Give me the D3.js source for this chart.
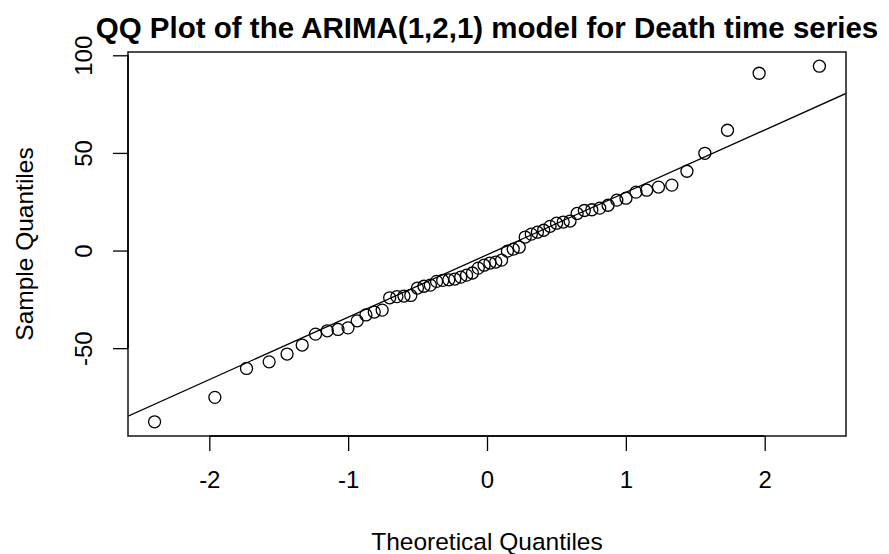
<!DOCTYPE html>
<html>
<head>
<meta charset="utf-8">
<script src="https://cdn.jsdelivr.net/npm/d3@7"></script>
<style>
  body { margin: 0; background: #fff; }
  text { font-family: "Liberation Sans", Arial, sans-serif; fill: #000; }
</style>
</head>
<body>
<svg id="qq" width="889" height="554"></svg>
<script>
// theoretical normal quantiles, n = 60
var theoretical = [
    -2.394, -1.960, -1.732, -1.569, -1.440, -1.331, -1.235, -1.150, -1.073, -1.001,
    -0.935, -0.872, -0.812, -0.755, -0.701, -0.649, -0.598, -0.549, -0.501, -0.454,
    -0.408, -0.363, -0.319, -0.275, -0.232, -0.189, -0.147, -0.105, -0.063, -0.021,
     0.021,  0.063,  0.105,  0.147,  0.189,  0.232,  0.275,  0.319,  0.363,  0.408,
     0.454,  0.501,  0.549,  0.598,  0.649,  0.701,  0.755,  0.812,  0.872,  0.935,
     1.001,  1.073,  1.150,  1.235,  1.331,  1.440,  1.569,  1.732,  1.960,  2.394
];

// residuals, sorted
var sample = [
    -87.7, -75.2, -60.4, -57.0, -53.0, -48.4, -42.8, -41.1, -40.4, -39.6,
    -36.0, -33.0, -31.5, -30.5, -24.2, -23.6, -23.3, -23.0, -19.2, -18.3,
    -17.7, -15.8, -15.3, -15.0, -14.6, -13.6, -12.6, -11.5,  -9.0,  -7.5,
     -6.4,  -5.9,  -4.9,  -0.3,   0.7,   1.7,   6.9,   8.4,   9.4,  10.4,
     12.4,  14.0,  14.6,  15.1,  19.0,  20.5,  20.9,  21.7,  23.2,  25.8,
     26.8,  29.9,  30.9,  32.5,  33.5,  40.6,  49.8,  61.6,  90.8,  94.4
];

var xTicks = [-2, -1, 0, 1, 2];
var yTicks = [-50, 0, 50, 100];

var svg = d3.select("#qq"),
    pLeft = 128, pRight = 846, pTop = 52, pBottom = 436;

// R style 4% range extension
function pad(ext)
{
    var d = (ext[1] - ext[0]) * 0.04;
    return [ext[0] - d, ext[1] + d];
}

function fmt(d) { return d < 0 ? "-" + Math.abs(d) : String(d); }

var x = d3.scaleLinear().domain(pad(d3.extent(theoretical))).range([pLeft, pRight]);
var y = d3.scaleLinear().domain(pad(d3.extent(sample))).range([pBottom, pTop]);

svg.append("clipPath").attr("id", "plotclip")
    .append("rect")
    .attr("x", pLeft).attr("y", pTop)
    .attr("width", pRight - pLeft).attr("height", pBottom - pTop);

// qqline through the quartiles
var q1 = d3.quantile(sample, 0.25), q3 = d3.quantile(sample, 0.75);
var z = 0.6744898;
var slope = (q3 - q1) / (2 * z);
var icpt = q1 + slope * z;
var xd = x.domain();

svg.append("line")
    .attr("clip-path", "url(#plotclip)")
    .attr("x1", x(xd[0])).attr("y1", y(icpt + slope * xd[0]))
    .attr("x2", x(xd[1])).attr("y2", y(icpt + slope * xd[1]))
    .attr("stroke", "#000")
    .attr("stroke-width", 1.3);

svg.append("g")
    .selectAll("circle")
    .data(sample)
    .enter().append("circle")
    .attr("cx", function(d, i) { return x(theoretical[i]); })
    .attr("cy", function(d) { return y(d); })
    .attr("r", 6)
    .attr("fill", "none")
    .attr("stroke", "#000")
    .attr("stroke-width", 1.3);

// box
svg.append("rect")
    .attr("x", pLeft).attr("y", pTop)
    .attr("width", pRight - pLeft).attr("height", pBottom - pTop)
    .attr("fill", "none")
    .attr("stroke", "#222")
    .attr("stroke-width", 1.6);

// axes
var xAxis = d3.axisBottom(x).tickValues(xTicks).tickSize(15).tickPadding(20).tickFormat(fmt);
var gx = svg.append("g").attr("transform", "translate(0," + pBottom + ")").call(xAxis);
gx.select(".domain").attr("d", "M" + x(xTicks[0]) + ",0H" + x(xTicks[xTicks.length - 1]))
    .attr("stroke-width", 1.6);
gx.selectAll(".tick line").attr("stroke-width", 1.3);
gx.selectAll("text").attr("font-size", 24).attr("font-family", null).attr("fill", "#000");

var yAxis = d3.axisLeft(y).tickValues(yTicks).tickSize(15).tickFormat(fmt);
var gy = svg.append("g").attr("transform", "translate(" + pLeft + ",0)").call(yAxis);
gy.select(".domain").attr("d", "M0," + y(yTicks[0]) + "V" + y(yTicks[yTicks.length - 1]))
    .attr("stroke-width", 1.6);
gy.selectAll(".tick line").attr("stroke-width", 1.3);
gy.selectAll(".tick text").remove();
gy.selectAll(".tick").append("text")
    .attr("transform", "translate(-36,0) rotate(-90)")
    .attr("text-anchor", "middle")
    .attr("font-size", 24)
    .text(fmt);

// labels
svg.append("text")
    .attr("x", (pLeft + pRight) / 2).attr("y", 38)
    .attr("text-anchor", "middle")
    .attr("font-size", 29.5)
    .attr("font-weight", "bold")
    .text("QQ Plot of the ARIMA(1,2,1) model for Death time series");

svg.append("text")
    .attr("x", (pLeft + pRight) / 2).attr("y", 550)
    .attr("text-anchor", "middle")
    .attr("font-size", 24.5)
    .text("Theoretical Quantiles");

svg.append("text")
    .attr("transform", "translate(33," + ((pTop + pBottom) / 2) + ") rotate(-90)")
    .attr("text-anchor", "middle")
    .attr("font-size", 24.5)
    .text("Sample Quantiles");
</script>
</body>
</html>
